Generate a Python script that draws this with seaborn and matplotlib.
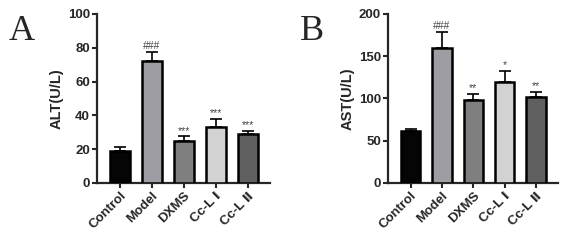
import numpy as np
import pandas as pd
import matplotlib
matplotlib.use("Agg")
import matplotlib.pyplot as plt
import seaborn as sns

groups = ["Control", "Model", "DXMS", "Cc-L Ⅰ", "Cc-L Ⅱ"]
alt_mean = [19, 72, 25, 33, 29]
alt_err = [2, 5.5, 2.5, 5, 1.5]
alt_sig = ["", "###", "***", "***", "***"]
ast_mean = [61, 160, 98, 120, 102]
ast_err = [2.5, 19, 7, 12, 6]
ast_sig = ["", "###", "**", "*", "**"]
bar_colors = ["#050505", "#9c9ca4", "#7f7f7f", "#d2d2d2", "#5f5f5f"]

sns.set_style("ticks")
plt.rcParams["font.family"] = ["Liberation Sans", "DejaVu Sans"]
plt.rcParams["font.weight"] = "bold"

fig = plt.figure(figsize=(5.66, 2.41), dpi=100)
ax_a = fig.add_axes([0.171, 0.241, 0.306, 0.701])
ax_b = fig.add_axes([0.6855, 0.241, 0.3005, 0.701])


def draw_panel(ax, means, errs, sigs, ylabel, ymax, yticks, letter):
    df = pd.DataFrame({"group": groups, "value": means})
    sns.barplot(data=df, x="group", y="value", hue="group", palette=bar_colors,
                legend=False, width=0.62, edgecolor="black", linewidth=1.8,
                ax=ax, zorder=3)
    x = np.arange(len(groups))
    ax.errorbar(x, means, yerr=[np.zeros(len(means)), errs], fmt="none",
                ecolor="black", elinewidth=1.2, capsize=4, capthick=1.2,
                zorder=2)
    for xi, m, e, s in zip(x, means, errs, sigs):
        if s:
            ax.text(xi, m + e + ymax * 0.005, s, ha="center", va="bottom",
                    fontsize=7.5, color="#444444", fontweight="normal")
    ax.set_xlim(-0.72, 4.7)
    ax.set_ylim(0, ymax)
    ax.set_yticks(yticks)
    ax.set_xlabel("")
    ax.set_ylabel(ylabel, fontsize=10.5, fontweight="bold", labelpad=3)
    ax.tick_params(axis="both", direction="out", length=3.5, width=1.5,
                   labelsize=9.5, pad=1.5)
    ax.set_xticks(x)
    ax.set_xticklabels(groups, rotation=45, ha="right", rotation_mode="anchor",
                       fontweight="bold", fontsize=9.5,
                       family=["Liberation Sans", "DejaVu Sans"])
    for lab in ax.get_yticklabels():
        lab.set_fontweight("bold")
    for side in ["left", "bottom"]:
        ax.spines[side].set_linewidth(1.6)
    sns.despine(ax=ax)
    fig.text(ax.get_position().x0 - 0.155, 0.834, letter, fontsize=26,
             family="Liberation Serif", fontweight="normal")


draw_panel(ax_a, alt_mean, alt_err, alt_sig, "ALT(U/L)", 100,
           [0, 20, 40, 60, 80, 100], "A")
draw_panel(ax_b, ast_mean, ast_err, ast_sig, "AST(U/L)", 200,
           [0, 50, 100, 150, 200], "B")

fig.savefig("out.png", dpi=100)
